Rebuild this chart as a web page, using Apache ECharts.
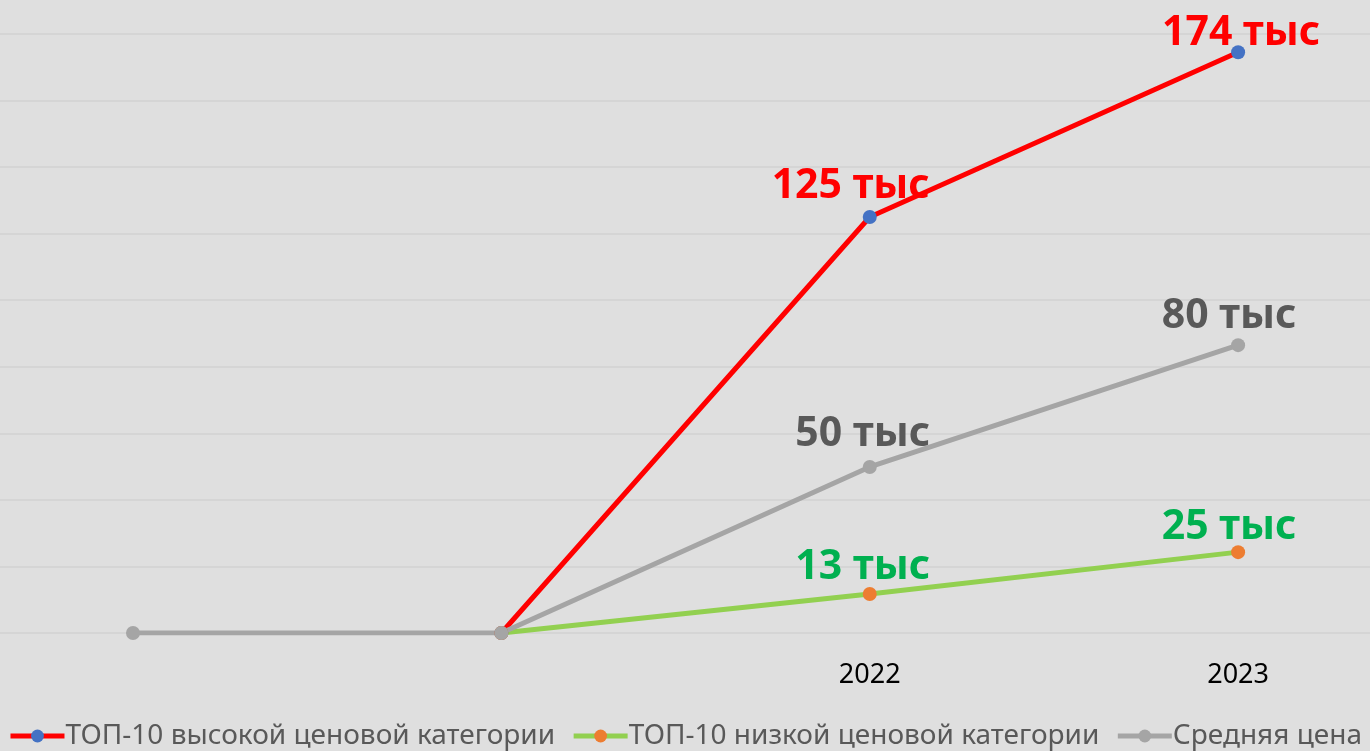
<!DOCTYPE html>
<html>
<head>
<meta charset="utf-8">
<script src="https://cdn.jsdelivr.net/npm/echarts@6/dist/echarts.min.js"></script>
<style>
  html, body { margin: 0; padding: 0; background: #dfdfdf; }
  #main { width: 1370px; height: 751px; }
</style>
</head>
<body>
<div id="main"></div>
<script>
// категории (первые две без подписи)
var categories = ['', '', '2022', '2023'];

// значения, тыс
var highValues = [null, 0, 125, 174.5];
var lowValues = [null, 0, 11.7, 24.3];
var avgValues = [0, 0, 49.9, 86.5];

// подписи данных
var highLabels = ['', '', '125 тыс', '174 тыс'];
var lowLabels = ['', '', '13 тыс', '25 тыс'];
var avgLabels = ['', '', '50 тыс', '80 тыс'];

var yTicks = [0, 20, 40, 60, 80, 100, 120, 140, 160, 180];

var FONT = '"Noto Sans", "Open Sans", sans-serif';

// точки по индексу категории, подписи — отдельно
function withLabels(values, labels, color, offsets) {
    var out = [];
    values.forEach(function (v, i) {
        if (v === null) return;
        var item = { value: [i, v] };
        if (labels[i]) {
            item.label = {
                show: true,
                position: 'top',
                formatter: labels[i],
                color: color,
                fontFamily: FONT,
                fontWeight: 'bold',
                fontSize: 41,
                offset: offsets[i]
            };
        }
        out.push(item);
    });
    return out;
}

var labelIdx = [];
categories.forEach(function (c, i) { if (c) labelIdx.push(i); });

var myChart = echarts.init(document.getElementById('main'));
myChart.setOption({
    backgroundColor: '#dfdfdf',
    animation: false,
    grid: { left: 0, right: 0, top: 34, bottom: 118 },
    legend: {
        top: 717,
        left: 'center',
        itemWidth: 54,
        itemHeight: 16,
        itemGap: 16,
        lineStyle: { width: 5 },
        textStyle: { fontFamily: FONT, fontSize: 28, color: '#595959', padding: [0, 0, 0, -4] },
        data: ['ТОП-10 высокой ценовой категории', 'ТОП-10 низкой ценовой категории', 'Средняя цена']
    },
    xAxis: {
        type: 'value',
        min: -0.361,
        max: 3.358,
        axisLine: { show: false },
        axisTick: { show: false },
        splitLine: { show: false },
        axisLabel: {
            customValues: labelIdx,
            formatter: function (v) { return categories[Math.round(v)]; },
            fontFamily: FONT, fontSize: 27, color: '#000', margin: 29
        }
    },
    yAxis: {
        type: 'value',
        min: yTicks[0],
        max: yTicks[yTicks.length - 1],
        interval: 20,
        axisLabel: { show: false },
        axisLine: { show: false },
        axisTick: { show: false },
        splitLine: { lineStyle: { color: '#d5d5d5', width: 2 } }
    },
    series: [
        {
            name: 'ТОП-10 высокой ценовой категории',
            type: 'line',
            data: withLabels(highValues, highLabels, '#ff0000', [null, null, [-19, 2], [3, 14]]),
            symbol: 'circle',
            symbolSize: 14,
            lineStyle: { color: '#ff0000', width: 5 },
            itemStyle: { color: '#4472c4' }
        },
        {
            name: 'ТОП-10 низкой ценовой категории',
            type: 'line',
            data: withLabels(lowValues, lowLabels, '#00b050', [null, null, [-7, 6], [-9, 8]]),
            symbol: 'circle',
            symbolSize: 14,
            lineStyle: { color: '#92d050', width: 5 },
            itemStyle: { color: '#ed7d31' }
        },
        {
            name: 'Средняя цена',
            type: 'line',
            data: withLabels(avgValues, avgLabels, '#595959', [null, null, [-7, 0], [-9, 4]]),
            symbol: 'circle',
            symbolSize: 14,
            lineStyle: { color: '#a5a5a5', width: 5 },
            itemStyle: { color: '#a5a5a5' }
        }
    ]
});
</script>
</body>
</html>
